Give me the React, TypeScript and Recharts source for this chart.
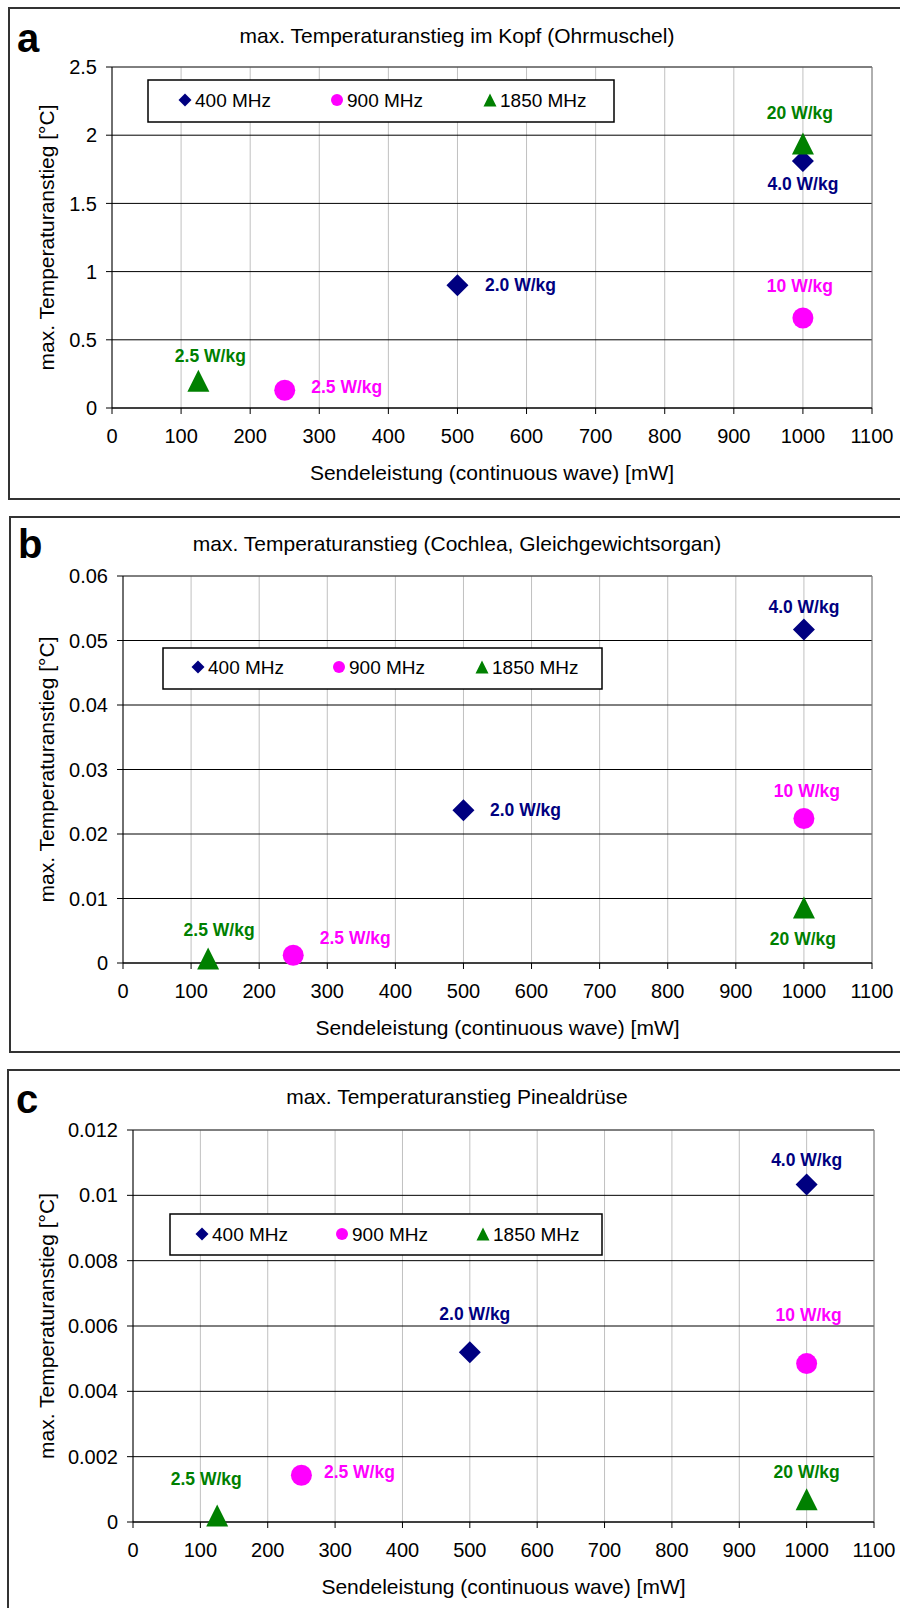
import React from 'react';
import { ScatterChart, Scatter, XAxis, YAxis, CartesianGrid, ReferenceLine } from 'recharts';

// x: Sendeleistung [mW]
const powers400 = [500, 1000];
const powers900 = [250, 1000];
const powers1850 = [125, 1000];

// SAR labels shown next to each point
const sar400 = ['2.0 W/kg', '4.0 W/kg'];
const sar900 = ['2.5 W/kg', '10 W/kg'];
const sar1850 = ['2.5 W/kg', '20 W/kg'];

// y: max. Temperaturanstieg [°C]
const riseA400 = [0.9, 1.81];
const riseA900 = [0.13, 0.66];
const riseA1850 = [0.2, 1.94];

const riseB400 = [0.0237, 0.0517];
const riseB900 = [0.0012, 0.0224];
const riseB1850 = [0.0007, 0.0086];

const riseC400 = [0.0052, 0.01033];
const riseC900 = [0.00143, 0.00485];
const riseC1850 = [0.0002, 0.0007];

const xTicks = [0, 100, 200, 300, 400, 500, 600, 700, 800, 900, 1000, 1100];
const yTicksA = [0, 0.5, 1, 1.5, 2, 2.5];
const yTicksB = [0, 0.01, 0.02, 0.03, 0.04, 0.05, 0.06];
const yTicksC = [0, 0.002, 0.004, 0.006, 0.008, 0.01, 0.012];

const seriesNames = ['400 MHz', '900 MHz', '1850 MHz'];
const COLORS = ['#000080', '#ff00ff', '#008000'];
const KINDS = ['diamond', 'circle', 'triangle'];
const FONT = 'Arial, "Liberation Sans", Helvetica, sans-serif';

// label offsets (text centre relative to marker centre)
const offsA = [[[63, 0], [0, 23]], [[62, -3], [-3, -32]], [[12, -25], [-3, -30]]];
const offsB = [[[62, 0], [0, -23]], [[62, -17], [3, -28]], [[11, -28], [-1, 31]]];
const offsC = [[[5, -38], [0, -25]], [[58, -3], [2, -49]], [[-11, -36], [0, -27]]];

const rows = (xs, ys, labels) => xs.map((x, i) => ({ x, y: ys[i], label: labels[i], i }));

function markerPath(kind, cx, cy, s) {
  if (kind === 'diamond') return `M${cx},${cy - s}L${cx + s},${cy}L${cx},${cy + s}L${cx - s},${cy}Z`;
  if (kind === 'triangle') return `M${cx},${cy - s}L${cx + s},${cy + s}L${cx - s},${cy + s}Z`;
  return `M${cx - s},${cy}a${s},${s} 0 1,0 ${2 * s},0a${s},${s} 0 1,0 ${-2 * s},0Z`;
}

const makeShape = (kind, color, offs) => (props) => {
  const { cx, cy, payload } = props;
  const size = kind === 'circle' ? 10.5 : 11;
  const [dx, dy] = offs[payload.i];
  return (
    <g>
      <path d={markerPath(kind, cx, cy, size)} fill={color} />
      <text
        x={cx + dx}
        y={cy + dy}
        textAnchor="middle"
        dominantBaseline="central"
        fill={color}
        fontSize={17.5}
        fontWeight="bold"
        fontFamily={FONT}
      >
        {payload.label}
      </text>
    </g>
  );
};

const panels = [
  {
    top: 0, height: 510, letter: 'a', letterX: 17, letterY: 52,
    title: 'max. Temperaturanstieg im Kopf (Ohrmuschel)', titleY: 43,
    frame: { left: 8, top: 7, bottom: 500 },
    plot: { left: 112, top: 67, right: 872, bottom: 408 }, xLabelOffset: 30,
    yDomain: [0, 2.5], yTicks: yTicksA,
    data: [rows(powers400, riseA400, sar400), rows(powers900, riseA900, sar900), rows(powers1850, riseA1850, sar1850)],
    offs: offsA,
    legend: { x: 148, y: 80, w: 466, h: 42, cy: 100, icons: [185, 337, 490] },
  },
  {
    top: 510, height: 550, letter: 'b', letterX: 18, letterY: 48,
    title: 'max. Temperaturanstieg (Cochlea, Gleichgewichtsorgan)', titleY: 41,
    frame: { left: 9, top: 6, bottom: 543 },
    plot: { left: 123, top: 66, right: 872, bottom: 453 }, xLabelOffset: 25,
    yDomain: [0, 0.06], yTicks: yTicksB,
    data: [rows(powers400, riseB400, sar400), rows(powers900, riseB900, sar900), rows(powers1850, riseB1850, sar1850)],
    offs: offsB,
    legend: { x: 163, y: 138, w: 439, h: 41, cy: 157, icons: [198, 339, 482] },
  },
  {
    top: 1060, height: 548, letter: 'c', letterX: 16, letterY: 53,
    title: 'max. Temperaturanstieg Pinealdrüse', titleY: 44,
    frame: { left: 7, top: 9, bottom: 600 },
    plot: { left: 133, top: 70, right: 874, bottom: 462 }, xLabelOffset: 14,
    yDomain: [0, 0.012], yTicks: yTicksC,
    data: [rows(powers400, riseC400, sar400), rows(powers900, riseC900, sar900), rows(powers1850, riseC1850, sar1850)],
    offs: offsC,
    legend: { x: 170, y: 154, w: 432, h: 41, cy: 174, icons: [202, 342, 483] },
  },
];

function Panel({ p }) {
  const { plot, legend } = p;
  return (
    <div style={{ position: 'absolute', left: 0, top: p.top, width: 900, height: p.height }}>
      <div
        style={{
          position: 'absolute', left: p.frame.left, top: p.frame.top, width: 900,
          height: p.frame.bottom - p.frame.top, border: '2px solid #333', boxSizing: 'border-box',
        }}
      />
      <ScatterChart
        width={900}
        height={p.height}
        margin={{ top: plot.top, right: 900 - plot.right, bottom: 0, left: 0 }}
        style={{ fontFamily: FONT }}
      >
        <CartesianGrid horizontal={false} stroke="#c0c0c0" />
        <CartesianGrid vertical={false} stroke="#000" />
        <XAxis
          type="number"
          dataKey="x"
          domain={[0, 1100]}
          ticks={xTicks}
          height={p.height - plot.bottom}
          axisLine={{ stroke: '#000' }}
          tickLine={{ stroke: '#000' }}
          tickSize={6}
          tickMargin={15}
          tick={{ fill: '#000', fontSize: 20 }}
          label={{ value: 'Sendeleistung (continuous wave) [mW]', position: 'insideBottom', offset: p.xLabelOffset, fill: '#000', fontSize: 21 }}
        />
        <YAxis
          type="number"
          dataKey="y"
          domain={p.yDomain}
          ticks={p.yTicks}
          width={plot.left}
          axisLine={{ stroke: '#000' }}
          tickLine={{ stroke: '#000' }}
          tickSize={6}
          tickMargin={9}
          tick={{ fill: '#000', fontSize: 20 }}
          label={{ value: 'max. Temperaturanstieg [°C]', angle: -90, position: 'insideLeft', offset: 47, fill: '#000', fontSize: 21, style: { textAnchor: 'middle' } }}
        />
        <ReferenceLine y={p.yDomain[1]} stroke="#808080" />
        <ReferenceLine x={1100} stroke="#808080" />
        {p.data.map((d, k) => (
          <Scatter
            key={seriesNames[k]}
            name={seriesNames[k]}
            data={d}
            fill={COLORS[k]}
            isAnimationActive={false}
            shape={makeShape(KINDS[k], COLORS[k], p.offs[k])}
          />
        ))}
      </ScatterChart>
      <svg
        width={900}
        height={p.height}
        style={{ position: 'absolute', left: 0, top: 0, pointerEvents: 'none', fontFamily: FONT }}
      >
        <text x={p.letterX} y={p.letterY} fontSize={40} fontWeight="bold" fill="#000">{p.letter}</text>
        <text x={457} y={p.titleY} fontSize={21} textAnchor="middle" fill="#000">{p.title}</text>
        {/* Legend */}
        <rect x={legend.x} y={legend.y} width={legend.w} height={legend.h} fill="#fff" stroke="#000" strokeWidth={1.5} />
        {seriesNames.map((name, k) => (
          <g key={name}>
            <path
              d={markerPath(KINDS[k], legend.icons[k], legend.cy, KINDS[k] === 'circle' ? 6 : 6.5)}
              fill={COLORS[k]}
            />
            <text x={legend.icons[k] + 10} y={legend.cy + 7} fontSize={19} fill="#000">{name}</text>
          </g>
        ))}
      </svg>
    </div>
  );
}

export default function App() {
  return (
    <div style={{ position: 'absolute', left: 0, top: 0, width: 900, height: 1608, overflow: 'hidden', background: '#fff' }}>
      {panels.map((p) => (
        <Panel key={p.letter} p={p} />
      ))}
    </div>
  );
}
